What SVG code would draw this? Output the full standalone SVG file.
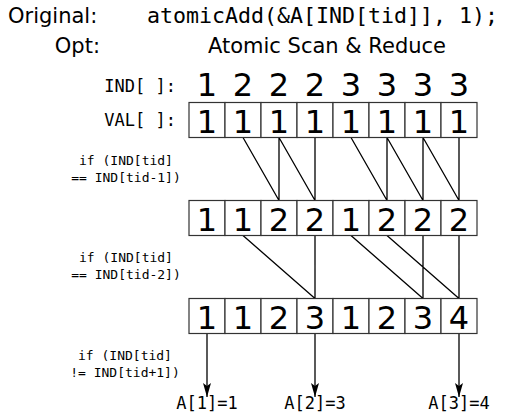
<svg xmlns="http://www.w3.org/2000/svg" width="511" height="417" viewBox="0 0 511 417">
<defs>
<style>
.sans{font-family:"DejaVu Sans","Liberation Sans",sans-serif;fill:#000}
.mono{font-family:"DejaVu Sans Mono","Liberation Mono",monospace;fill:#000}
.big{font-family:"DejaVu Sans","Liberation Sans",sans-serif;font-size:32px;text-anchor:middle;fill:#000}
.cell{fill:#fff;stroke:#333;stroke-width:1.2}
.lbl{font-size:13px;text-anchor:middle}
.con{stroke:#000;stroke-width:1.3;fill:none}
.arr{stroke:#000;stroke-width:1.3;fill:none;marker-end:url(#ah)}
</style>
<marker id="ah" viewBox="0 0 14 8" refX="14" refY="4" markerWidth="14" markerHeight="8" markerUnits="userSpaceOnUse" orient="auto">
<path d="M0,0 L14,4 L0,8 L3,4 z" fill="#000"/>
</marker>
</defs>
<rect width="511" height="417" fill="#fff"/>
<g id="header">
<text class="sans" x="8" y="23" font-size="21">Original:</text>
<text class="mono" x="147" y="23" font-size="21.6">atomicAdd(&amp;A[IND[tid]], 1);</text>
<text class="sans" x="100" y="53" font-size="21" text-anchor="end">Opt:</text>
<text class="sans" x="208" y="53" font-size="21">Atomic Scan &amp; Reduce</text>
</g>
<g id="ind-row">
<text class="mono" x="176" y="92" font-size="17" text-anchor="end">IND[ ]:</text>
<text class="big" x="207" y="96">1</text>
<text class="big" x="243" y="96">2</text>
<text class="big" x="279" y="96">2</text>
<text class="big" x="315" y="96">2</text>
<text class="big" x="351" y="96">3</text>
<text class="big" x="387" y="96">3</text>
<text class="big" x="423" y="96">3</text>
<text class="big" x="459" y="96">3</text>
</g>
<g id="connectors">
<path class="con" d="M243,137.5L279,200.5M279,137.5L279,200.5M279,137.5L315,200.5M315,137.5L315,200.5M351,137.5L387,200.5M387,137.5L387,200.5M387,137.5L423,200.5M423,137.5L423,200.5M423,137.5L459,200.5M459,137.5L459,200.5"/>
<path class="con" d="M243,235.5L315,298.5M315,235.5L315,298.5M351,235.5L423,298.5M423,235.5L423,298.5M387,235.5L459,298.5M459,235.5L459,298.5"/>
<line class="arr" x1="207" y1="333.5" x2="207" y2="397"/>
<line class="arr" x1="315" y1="333.5" x2="315" y2="397"/>
<line class="arr" x1="459" y1="333.5" x2="459" y2="397"/>
</g>
<g id="val-row">
<text class="mono" x="176" y="126" font-size="17" text-anchor="end">VAL[ ]:</text>
<rect class="cell" x="189" y="102.5" width="36" height="35"/>
<rect class="cell" x="225" y="102.5" width="36" height="35"/>
<rect class="cell" x="261" y="102.5" width="36" height="35"/>
<rect class="cell" x="297" y="102.5" width="36" height="35"/>
<rect class="cell" x="333" y="102.5" width="36" height="35"/>
<rect class="cell" x="369" y="102.5" width="36" height="35"/>
<rect class="cell" x="405" y="102.5" width="36" height="35"/>
<rect class="cell" x="441" y="102.5" width="36" height="35"/>
<text class="big" x="207" y="132.5">1</text>
<text class="big" x="243" y="132.5">1</text>
<text class="big" x="279" y="132.5">1</text>
<text class="big" x="315" y="132.5">1</text>
<text class="big" x="351" y="132.5">1</text>
<text class="big" x="387" y="132.5">1</text>
<text class="big" x="423" y="132.5">1</text>
<text class="big" x="459" y="132.5">1</text>
</g>
<g id="step1-label">
<text class="mono lbl" x="126" y="165">if (IND[tid]</text>
<text class="mono lbl" x="126" y="181.5">== IND[tid-1])</text>
</g>
<g id="row2">
<rect class="cell" x="189" y="200.5" width="36" height="35"/>
<rect class="cell" x="225" y="200.5" width="36" height="35"/>
<rect class="cell" x="261" y="200.5" width="36" height="35"/>
<rect class="cell" x="297" y="200.5" width="36" height="35"/>
<rect class="cell" x="333" y="200.5" width="36" height="35"/>
<rect class="cell" x="369" y="200.5" width="36" height="35"/>
<rect class="cell" x="405" y="200.5" width="36" height="35"/>
<rect class="cell" x="441" y="200.5" width="36" height="35"/>
<text class="big" x="207" y="230.5">1</text>
<text class="big" x="243" y="230.5">1</text>
<text class="big" x="279" y="230.5">2</text>
<text class="big" x="315" y="230.5">2</text>
<text class="big" x="351" y="230.5">1</text>
<text class="big" x="387" y="230.5">2</text>
<text class="big" x="423" y="230.5">2</text>
<text class="big" x="459" y="230.5">2</text>
</g>
<g id="step2-label">
<text class="mono lbl" x="126" y="262">if (IND[tid]</text>
<text class="mono lbl" x="126" y="278.5">== IND[tid-2])</text>
</g>
<g id="row3">
<rect class="cell" x="189" y="298.5" width="36" height="35"/>
<rect class="cell" x="225" y="298.5" width="36" height="35"/>
<rect class="cell" x="261" y="298.5" width="36" height="35"/>
<rect class="cell" x="297" y="298.5" width="36" height="35"/>
<rect class="cell" x="333" y="298.5" width="36" height="35"/>
<rect class="cell" x="369" y="298.5" width="36" height="35"/>
<rect class="cell" x="405" y="298.5" width="36" height="35"/>
<rect class="cell" x="441" y="298.5" width="36" height="35"/>
<text class="big" x="207" y="328.5">1</text>
<text class="big" x="243" y="328.5">1</text>
<text class="big" x="279" y="328.5">2</text>
<text class="big" x="315" y="328.5">3</text>
<text class="big" x="351" y="328.5">1</text>
<text class="big" x="387" y="328.5">2</text>
<text class="big" x="423" y="328.5">3</text>
<text class="big" x="459" y="328.5">4</text>
</g>
<g id="step3-label">
<text class="mono lbl" x="125" y="360">if (IND[tid]</text>
<text class="mono lbl" x="125" y="376.5">!= IND[tid+1])</text>
</g>
<g id="outputs">
<text class="mono" x="207" y="409" font-size="17" text-anchor="middle">A[1]=1</text>
<text class="mono" x="315" y="409" font-size="17" text-anchor="middle">A[2]=3</text>
<text class="mono" x="459" y="409" font-size="17" text-anchor="middle">A[3]=4</text>
</g>
</svg>
